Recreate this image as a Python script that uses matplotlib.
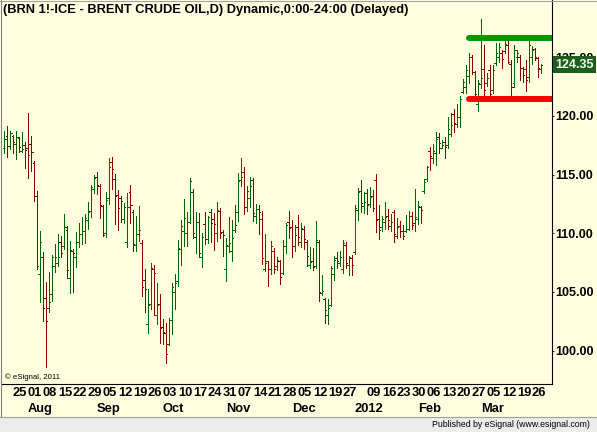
import numpy as np
import pandas as pd
import matplotlib
matplotlib.use("Agg")
import matplotlib.pyplot as plt
from matplotlib.lines import Line2D
from matplotlib.patches import Rectangle

plt.rcParams['font.family'] = ['Liberation Sans', 'DejaVu Sans']

# trading days shown (ICE closed on these)
first_day = '2011-07-20'
last_day = '2012-03-29'
holidays = ['2011-12-26', '2012-01-02']

# OHLC, one list per month
jul_o = [117.3, 118.3, 117.4, 118.3, 117.6, 118.1, 117.0, 117.5]
jul_h = [118.71, 119.17, 118.71, 118.37, 118.71, 118.23, 118.63, 117.80]
jul_l = [116.87, 116.50, 117.15, 116.81, 116.36, 116.95, 116.95, 115.59]
jul_c = [118.00, 117.43, 118.51, 117.80, 118.23, 117.32, 117.18, 117.09]

aug_o = [117.3, 117.6, 116.0, 113.2, 106.5, 108.0, 104.5, 103.6, 104.8, 107.2, 107.5, 109.3,
         108.9, 110.3, 106.2, 108.5, 108.0, 109.3, 109.9, 110.2, 111.1, 111.9, 113.8]
aug_h = [120.22, 118.31, 116.16, 113.57, 110.22, 108.41, 105.88, 106.67, 108.15, 109.06, 109.94, 109.77,
         111.64, 110.62, 109.34, 108.63, 110.08, 110.85, 111.36, 111.64, 112.66, 114.11, 114.94]
aug_l = [114.68, 115.33, 112.75, 106.93, 104.18, 102.56, 98.64, 103.32, 104.26, 106.73, 107.24, 107.95,
         108.63, 106.16, 104.94, 105.03, 107.10, 108.86, 109.09, 109.20, 110.34, 111.42, 113.46]
aug_c = [116.67, 116.89, 113.18, 107.21, 109.23, 103.61, 102.53, 104.12, 108.01, 107.95, 107.95, 108.30,
         110.51, 106.87, 108.58, 108.35, 109.29, 109.94, 110.19, 111.27, 111.84, 113.91, 114.68]

sep_o = [114.8, 114.0, 112.3, 110.0, 113.0, 116.1, 114.6, 113.3, 113.0, 111.2, 109.3,
         113.5, 111.8, 109.0, 109.9, 109.2, 106.0, 102.3, 104.0, 107.0, 103.0, 104.0]
sep_h = [115.22, 114.20, 112.41, 113.52, 116.38, 116.53, 115.05, 113.69, 113.18, 112.55, 113.40,
         114.11, 111.98, 111.47, 112.32, 109.43, 106.96, 105.25, 107.44, 107.30, 105.74, 104.83]
sep_l = [113.35, 111.27, 109.77, 109.71, 112.49, 113.77, 110.79, 110.28, 110.99, 110.85, 108.86,
         110.90, 108.52, 108.52, 109.37, 104.69, 103.32, 101.54, 103.52, 103.04, 102.25, 100.63]
sep_c = [114.11, 112.41, 109.85, 112.83, 115.67, 115.50, 113.20, 112.13, 112.75, 112.27, 112.21,
         112.41, 109.06, 109.90, 110.28, 105.40, 105.23, 103.86, 107.01, 106.59, 103.89, 101.90]

oct_o = [102.0, 101.5, 100.6, 102.6, 105.0, 105.9, 108.7, 110.2, 110.0, 111.0, 113.5,
         109.7, 111.0, 108.0, 110.8, 109.5, 111.8, 111.2, 110.0, 111.9, 110.1]
oct_h = [102.67, 102.33, 102.76, 105.74, 106.53, 109.43, 111.13, 112.92, 111.84, 114.68, 113.77,
         111.84, 111.70, 110.05, 111.84, 111.47, 112.07, 111.70, 112.64, 112.18, 110.28]
oct_l = [100.57, 98.98, 100.49, 101.42, 103.52, 105.54, 107.30, 108.92, 108.95, 110.85, 109.57,
         108.29, 108.01, 107.16, 109.09, 109.20, 109.29, 108.58, 109.37, 109.57, 108.06]
oct_c = [101.62, 99.69, 102.61, 105.45, 105.74, 108.72, 110.62, 111.27, 110.99, 114.48, 110.05,
         110.99, 108.29, 109.71, 109.48, 111.36, 110.90, 110.76, 111.98, 110.00, 109.85]

nov_o = [107.0, 108.9, 108.5, 110.3, 111.8, 114.5, 115.2, 112.2, 113.0, 114.5, 111.5,
         112.1, 111.2, 107.0, 107.6, 107.0, 108.5, 107.2, 107.6, 106.6, 108.9, 111.0]
nov_h = [109.57, 111.42, 111.13, 112.41, 115.11, 116.38, 115.62, 114.03, 114.82, 114.68, 112.49,
         112.41, 111.90, 109.94, 107.64, 109.34, 108.72, 107.98, 107.72, 109.43, 110.85, 111.90]
nov_l = [105.96, 108.43, 107.67, 110.14, 111.07, 114.03, 111.64, 111.93, 112.27, 111.07, 110.90,
         109.94, 107.38, 106.82, 105.51, 106.50, 106.65, 106.87, 105.68, 106.50, 108.29, 109.57]
nov_c = [109.00, 109.20, 109.57, 110.71, 114.48, 114.82, 112.21, 113.63, 114.03, 111.76, 112.04,
         111.84, 107.90, 107.44, 107.00, 108.92, 106.93, 107.72, 106.31, 108.92, 110.71, 110.42]

dec_o = [110.5, 108.9, 110.5, 109.3, 110.4, 109.3, 107.3, 107.6, 107.2, 109.3, 104.9,
         104.4, 103.0, 103.9, 106.5, 107.9, 107.5, 107.0, 109.0, 107.3, 107.9]
dec_h = [111.13, 110.71, 111.56, 110.85, 110.63, 109.43, 108.87, 108.72, 111.05, 109.43, 106.45,
         104.52, 104.38, 107.22, 108.07, 108.44, 108.52, 109.43, 109.29, 108.07, 108.16]
dec_l = [108.01, 108.52, 109.01, 108.87, 108.64, 107.22, 107.02, 106.88, 107.02, 104.27, 104.75,
         102.39, 102.28, 103.81, 106.03, 107.02, 107.22, 106.65, 107.02, 106.45, 106.45]
dec_c = [108.92, 109.86, 109.72, 110.43, 109.49, 108.07, 107.59, 107.16, 109.43, 105.03, 105.10,
         103.47, 103.61, 107.02, 107.73, 107.60, 107.96, 109.21, 107.45, 107.96, 107.30]

jan_o = [108.4, 112.0, 113.6, 112.3, 113.4, 112.5, 113.2, 114.5, 111.2, 110.5, 111.0,
         111.5, 110.6, 111.8, 109.8, 110.6, 110.2, 110.2, 110.4, 111.5, 110.85]
jan_h = [112.40, 113.84, 114.55, 113.55, 113.75, 113.98, 113.69, 115.06, 112.42, 111.51, 112.64,
         112.08, 111.65, 111.99, 111.28, 111.08, 110.71, 111.56, 111.90, 111.84, 113.75]
jan_l = [108.24, 111.14, 111.85, 111.76, 111.65, 112.22, 111.93, 110.14, 109.52, 110.23, 110.34,
         110.34, 110.23, 109.26, 109.57, 109.71, 109.49, 110.14, 110.28, 110.34, 110.23]
jan_c = [112.13, 113.55, 112.61, 112.70, 112.40, 113.13, 112.13, 111.14, 110.29, 111.22, 111.42,
         111.14, 111.00, 109.90, 110.57, 110.23, 109.77, 110.34, 111.47, 110.71, 111.40]

feb_o = [111.2, 112.2, 113.6, 114.6, 117.0, 116.4, 116.8, 118.2, 117.3, 117.8, 117.5,
         118.5, 120.2, 119.3, 119.9, 122.0, 122.5, 123.4, 125.0, 123.7, 121.0]
feb_h = [112.78, 112.33, 114.60, 115.73, 117.38, 117.61, 118.66, 118.52, 117.95, 118.23, 119.88,
         120.27, 120.56, 121.01, 121.69, 123.11, 124.34, 125.39, 125.19, 123.82, 123.06]
feb_l = [110.79, 110.91, 113.41, 114.48, 115.39, 115.96, 115.82, 116.81, 117.24, 116.39, 117.24,
         118.29, 118.66, 119.08, 119.08, 121.92, 121.92, 122.83, 123.57, 121.41, 120.45]
feb_c = [112.33, 111.99, 114.40, 115.62, 116.59, 117.04, 118.00, 117.66, 117.52, 117.32, 118.86,
         119.20, 119.40, 119.93, 121.41, 122.92, 123.91, 125.04, 123.77, 121.90, 122.83]

mar_o = [122.7, 124.0, 122.8, 123.9, 122.2, 124.5, 125.0, 125.4, 125.5, 126.0, 124.4,
         122.8, 125.0, 125.0, 124.1, 124.0, 123.3, 125.0, 125.7, 124.9, 124.0]
mar_h = [128.22, 126.04, 123.68, 124.34, 124.34, 126.18, 126.18, 125.61, 126.52, 126.46, 124.76,
         126.04, 125.61, 125.19, 124.19, 124.76, 126.89, 125.95, 125.75, 125.04, 124.42]
mar_l = [122.35, 121.35, 122.55, 121.41, 121.92, 124.34, 124.62, 124.05, 125.39, 124.48, 121.35,
         122.49, 124.62, 123.06, 122.92, 122.15, 122.92, 124.42, 124.76, 123.34, 123.68]
mar_c = [123.20, 122.21, 123.26, 121.87, 123.91, 125.33, 125.84, 124.82, 126.12, 124.62, 122.43,
         125.61, 125.33, 124.05, 123.50, 123.06, 126.04, 125.61, 125.00, 124.05, 124.35]

# drawn trading range
range_top = 126.66
range_bottom = 121.47
range_start = '2012-02-24'

# axis labels
day_labels = ['2011-07-25', '2011-08-01', '2011-08-08', '2011-08-15', '2011-08-22', '2011-08-29',
              '2011-09-05', '2011-09-12', '2011-09-19', '2011-09-26', '2011-10-03', '2011-10-10',
              '2011-10-17', '2011-10-24', '2011-10-31', '2011-11-07', '2011-11-14', '2011-11-21',
              '2011-11-28', '2011-12-05', '2011-12-12', '2011-12-19', '2011-12-27', '2012-01-09',
              '2012-01-16', '2012-01-23', '2012-01-30', '2012-02-06', '2012-02-13', '2012-02-20',
              '2012-02-27', '2012-03-05', '2012-03-12', '2012-03-19', '2012-03-26']
month_labels = [('2011-08-01', 'Aug'), ('2011-09-01', 'Sep'), ('2011-10-03', 'Oct'),
                ('2011-11-01', 'Nov'), ('2011-12-01', 'Dec'), ('2012-01-03', '2012'),
                ('2012-02-01', 'Feb'), ('2012-03-01', 'Mar')]
price_ticks = [100, 105, 110, 115, 120, 125]

title = '(BRN 1!-ICE - BRENT CRUDE OIL,D) Dynamic,0:00-24:00 (Delayed)'

opens = np.array(jul_o + aug_o + sep_o + oct_o + nov_o + dec_o + jan_o + feb_o + mar_o)
highs = np.array(jul_h + aug_h + sep_h + oct_h + nov_h + dec_h + jan_h + feb_h + mar_h)
lows = np.array(jul_l + aug_l + sep_l + oct_l + nov_l + dec_l + jan_l + feb_l + mar_l)
closes = np.array(jul_c + aug_c + sep_c + oct_c + nov_c + dec_c + jan_c + feb_c + mar_c)

days = pd.bdate_range(first_day, last_day)
days = days[~days.isin(pd.to_datetime(holidays))]
assert len(days) == len(closes)
idx = {d: i for i, d in enumerate(days)}
x = np.arange(len(days))

BG = '#ffffe0'
UP = '#006400'
DOWN = '#8b0000'
W, H = 597, 432

fig = plt.figure(figsize=(W / 100, H / 100), dpi=100, facecolor=BG)
ax = fig.add_axes([2 / W, 48 / H, 550 / W, 384 / H], facecolor=BG)

# OHLC bars: open tick left, close tick right
cols = np.where(closes >= opens, UP, DOWN)
ax.vlines(x, lows, highs, colors=cols, linewidth=0.72, antialiased=False)
ax.hlines(opens, x - 0.5, x, colors=cols, linewidth=0.72, antialiased=False)
ax.hlines(closes, x, x + 0.5, colors=cols, linewidth=0.72, antialiased=False)

x0 = idx[pd.Timestamp(range_start)]
ax.plot([x0, len(x) + 10], [range_top, range_top], color='#009900', lw=4.3,
        solid_capstyle='round')
ax.plot([x0, len(x) + 10], [range_bottom, range_bottom], color='#ff0000', lw=4.3,
        solid_capstyle='round')

ax.set_xlim(-2 / 3, 550 / 3 - 2 / 3)
ax.set_ylim(100 - 33.3 / 11.74, 100 + 350.7 / 11.74)

for s in ['top', 'left']:
    ax.spines[s].set_visible(False)
for s in ['right', 'bottom']:
    ax.spines[s].set_linewidth(0.8)
    ax.spines[s].set_color('black')

ax.set_xticks([])
ax.yaxis.tick_right()
ax.set_yticks(price_ticks)
ax.set_yticklabels([f'{v:.2f}' for v in price_ticks], fontsize=9, fontweight='bold')
ax.tick_params(axis='y', length=1.5, width=0.8, color=DOWN, pad=0.6)

for d in day_labels:
    ax.annotate(pd.Timestamp(d).strftime('%d'), xy=(idx[pd.Timestamp(d)], 0),
                xycoords=('data', 'axes fraction'), xytext=(0, -6.6),
                textcoords='offset points', ha='left', va='center',
                fontsize=9.3, fontweight='bold', annotation_clip=False)
for d, lab in month_labels:
    ax.annotate(lab, xy=(idx[pd.Timestamp(d)], 0),
                xycoords=('data', 'axes fraction'), xytext=(0, -18),
                textcoords='offset points', ha='left', va='center',
                fontsize=9.3, fontweight='bold', annotation_clip=False)

# last price box
ax.annotate(f'{closes[-1]:.2f}', xy=(1, closes[-1]), xycoords=('axes fraction', 'data'),
            xytext=(2.2, 0), textcoords='offset points', ha='left', va='center',
            fontsize=9, fontweight='bold', color='#f0fff0', annotation_clip=False,
            bbox=dict(boxstyle='square,pad=0.2', fc='#1d5e1d', ec='none'), zorder=5)

fig.text(3 / W, 1 - 10 / H, title, fontsize=9.3, fontweight='bold', va='center', ha='left')
fig.text(5 / W, 1 - 377 / H, '\u00a9 eSignal, 2011', fontsize=5.6, va='center', ha='left')

# bottom status strip
fig.patches.append(Rectangle((0, 0), 1, 15 / H, transform=fig.transFigure,
                             facecolor='#ececec', edgecolor='none'))
fig.lines.append(Line2D([0, 1], [15.5 / H, 15.5 / H], transform=fig.transFigure,
                        color='#a0a0a0', lw=0.8))
fig.lines.append(Line2D([1 / W, 1 / W], [16 / H, 1], transform=fig.transFigure,
                        color='#808080', lw=0.8))
fig.lines.append(Line2D([0, 1], [1 - 0.5 / H, 1 - 0.5 / H], transform=fig.transFigure,
                        color='#a0a0a0', lw=0.8))
fig.text(590 / W, 7.5 / H, 'Published by eSignal (www.esignal.com)', fontsize=6.3,
         ha='right', va='center')

fig.savefig('out.png', dpi=100, facecolor=BG)
